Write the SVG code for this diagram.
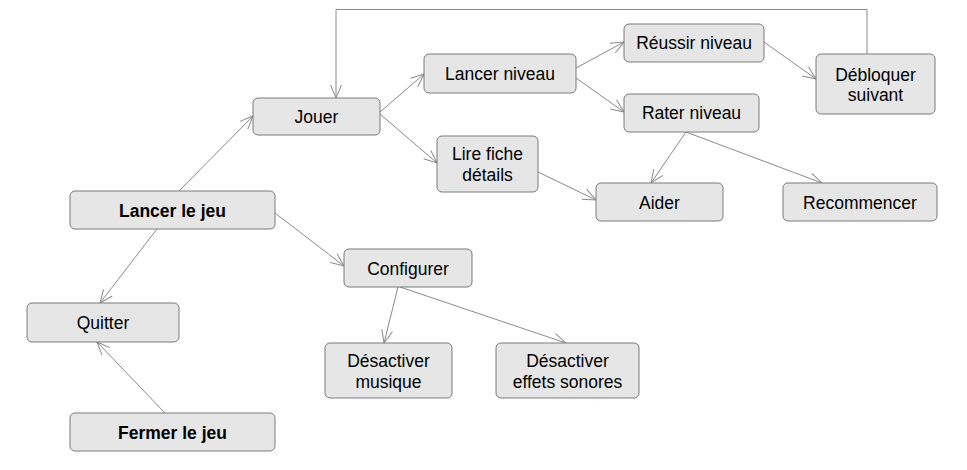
<svg xmlns="http://www.w3.org/2000/svg" width="967" height="470" viewBox="0 0 967 470">
<defs>
<marker id="arr" markerUnits="userSpaceOnUse" markerWidth="30" markerHeight="30" viewBox="-15 -15 30 30" refX="0" refY="0" orient="auto">
<path d="M-13,-5.5 L0,0 L-13,5.5" fill="none" stroke="#8a8a8a" stroke-width="1"/>
</marker>
</defs>
<style>
.n{fill:#e6e6e6;stroke:#7a7a7a;stroke-width:1}
.t{font-family:"Liberation Sans",Arial,sans-serif;font-size:17.5px;fill:#000;text-anchor:middle}
.b{font-weight:bold}
.c{fill:none;stroke:#8a8a8a;stroke-width:1;marker-end:url(#arr)}
</style>
<rect width="967" height="470" fill="#fff"/>
<g id="connectors">
<line class="c" x1="179" y1="191" x2="253" y2="116"/>
<line class="c" x1="157" y1="229" x2="100" y2="303"/>
<line class="c" x1="165" y1="413" x2="97" y2="342"/>
<line class="c" x1="275" y1="213" x2="344" y2="266"/>
<line class="c" x1="398" y1="287" x2="384" y2="343"/>
<line class="c" x1="400" y1="287" x2="566" y2="343"/>
<line class="c" x1="380" y1="112" x2="424" y2="74"/>
<line class="c" x1="380" y1="114" x2="437" y2="163"/>
<line class="c" x1="576" y1="68" x2="624" y2="42"/>
<line class="c" x1="576" y1="78" x2="624" y2="112"/>
<line class="c" x1="764" y1="42" x2="816" y2="79"/>
<line class="c" x1="686" y1="132" x2="651" y2="183"/>
<line class="c" x1="686" y1="132" x2="822" y2="183"/>
<line class="c" x1="538" y1="172" x2="596" y2="200"/>
<polyline class="c" points="867,54 867,9.5 336,9.5 336,98"/>
</g>
<g id="lancer-jeu"><rect class="n" x="70" y="191" width="205" height="38" rx="5"/><text class="t b" x="172.5" y="216.5">Lancer le jeu</text></g>
<g id="jouer"><rect class="n" x="253" y="98" width="127" height="37" rx="5"/><text class="t" x="316.5" y="123">Jouer</text></g>
<g id="lancer-niveau"><rect class="n" x="424" y="54" width="152" height="39" rx="5"/><text class="t" x="500" y="80">Lancer niveau</text></g>
<g id="lire-fiche"><rect class="n" x="437" y="136" width="101" height="56" rx="5"/><text class="t" x="487.5" y="160">Lire fiche</text><text class="t" x="487.5" y="181">détails</text></g>
<g id="reussir"><rect class="n" x="624" y="24" width="140" height="38" rx="5"/><text class="t" x="694" y="49">Réussir niveau</text></g>
<g id="debloquer"><rect class="n" x="816" y="54" width="119" height="60" rx="5"/><text class="t" x="875.5" y="80.5">Débloquer</text><text class="t" x="875.5" y="101">suivant</text></g>
<g id="rater"><rect class="n" x="624" y="94" width="135" height="38" rx="5"/><text class="t" x="691.5" y="119">Rater niveau</text></g>
<g id="aider"><rect class="n" x="596" y="183" width="127" height="38" rx="5"/><text class="t" x="659.5" y="208.5">Aider</text></g>
<g id="recommencer"><rect class="n" x="783" y="183" width="154" height="38" rx="5"/><text class="t" x="860" y="208.5">Recommencer</text></g>
<g id="configurer"><rect class="n" x="344" y="249" width="128" height="38" rx="5"/><text class="t" x="408" y="274.5">Configurer</text></g>
<g id="quitter"><rect class="n" x="27" y="303" width="152" height="39" rx="5"/><text class="t" x="103" y="329">Quitter</text></g>
<g id="fermer-jeu"><rect class="n" x="70" y="413" width="205" height="38" rx="5"/><text class="t b" x="172.5" y="438.5">Fermer le jeu</text></g>
<g id="desactiver-musique"><rect class="n" x="325" y="343" width="127" height="55" rx="5"/><text class="t" x="388.5" y="367">Désactiver</text><text class="t" x="388.5" y="387.5">musique</text></g>
<g id="desactiver-effets"><rect class="n" x="496" y="343" width="143" height="55" rx="5"/><text class="t" x="567.5" y="367">Désactiver</text><text class="t" x="567.5" y="387.5">effets sonores</text></g>
</svg>
